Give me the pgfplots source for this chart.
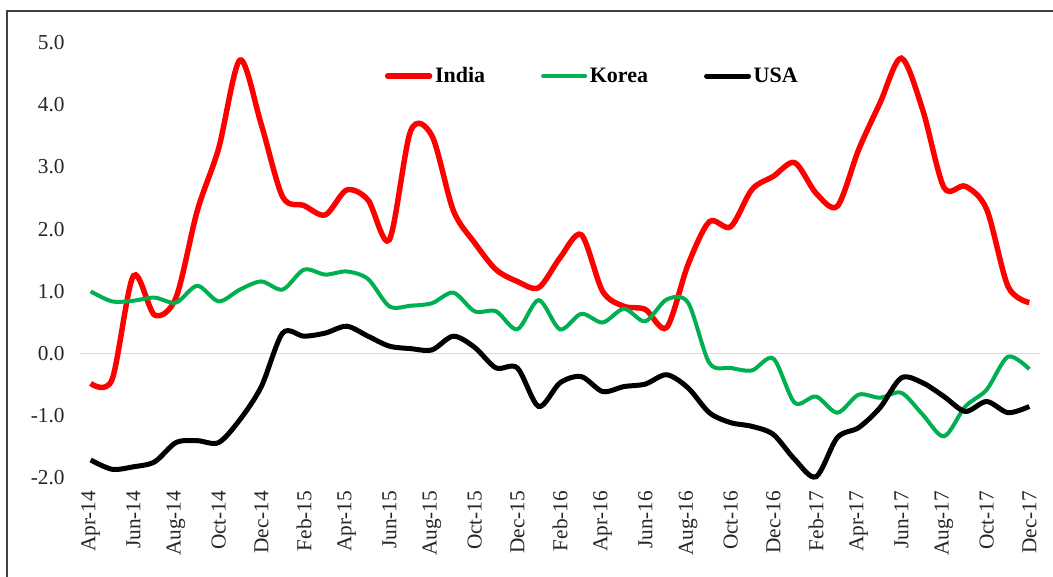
\documentclass[border=0pt]{standalone}
\usepackage{pgfplots}
\usepackage{pgfplotstable}
\pgfplotsset{compat=1.18}
\usepackage{fontspec}
\setmainfont{Liberation Serif}
\definecolor{kgreen}{RGB}{0,176,80}
\definecolor{zgray}{RGB}{217,217,217}

\pgfplotstableread{
i v
0 -0.48
1 -0.42
2 1.25
3 0.62
4 0.90
5 2.30
6 3.30
7 4.72
8 3.68
9 2.52
10 2.38
11 2.23
12 2.63
13 2.47
14 1.83
15 3.58
16 3.50
17 2.30
18 1.78
19 1.35
20 1.16
21 1.06
22 1.54
23 1.91
24 1.00
25 0.76
26 0.71
27 0.42
28 1.43
29 2.12
30 2.04
31 2.64
32 2.85
33 3.07
34 2.58
35 2.37
36 3.28
37 4.03
38 4.75
39 3.92
40 2.67
41 2.69
42 2.32
43 1.08
44 0.82
}\india

\pgfplotstableread{
i v
0 1.00
1 0.84
2 0.85
3 0.90
4 0.82
5 1.09
6 0.84
7 1.03
8 1.16
9 1.03
10 1.35
11 1.27
12 1.32
13 1.20
14 0.76
15 0.77
16 0.81
17 0.98
18 0.68
19 0.68
20 0.39
21 0.86
22 0.39
23 0.64
24 0.50
25 0.72
26 0.52
27 0.87
28 0.82
29 -0.15
30 -0.23
31 -0.27
32 -0.08
33 -0.79
34 -0.69
35 -0.95
36 -0.66
37 -0.71
38 -0.63
39 -0.98
40 -1.33
41 -0.85
42 -0.58
43 -0.05
44 -0.25
}\korea

\pgfplotstableread{
i v
0 -1.71
1 -1.86
2 -1.82
3 -1.74
4 -1.43
5 -1.40
6 -1.43
7 -1.06
8 -0.53
9 0.33
10 0.28
11 0.33
12 0.44
13 0.28
14 0.12
15 0.08
16 0.06
17 0.28
18 0.10
19 -0.23
20 -0.23
21 -0.85
22 -0.47
23 -0.37
24 -0.61
25 -0.53
26 -0.49
27 -0.34
28 -0.55
29 -0.95
30 -1.11
31 -1.17
32 -1.30
33 -1.70
34 -1.98
35 -1.35
36 -1.19
37 -0.87
38 -0.39
39 -0.47
40 -0.69
41 -0.93
42 -0.77
43 -0.95
44 -0.85
}\usa

\begin{document}
\begin{tikzpicture}
\begin{axis}[
  scale only axis,
  width=720pt, height=326.55pt,
  xmin=-0.5, xmax=44.5, ymin=-2, ymax=5,
  clip=false,
  axis line style={draw=none},
  major tick length=0pt,
  ytick={-2,-1,0,1,2,3,4,5},
  yticklabels={-2.0,-1.0,0.0,1.0,2.0,3.0,4.0,5.0},
  xtick={0,2,...,44},
  xticklabels={Apr-14,Jun-14,Aug-14,Oct-14,Dec-14,Feb-15,Apr-15,Jun-15,Aug-15,Oct-15,Dec-15,Feb-16,Apr-16,Jun-16,Aug-16,Oct-16,Dec-16,Feb-17,Apr-17,Jun-17,Aug-17,Oct-17,Dec-17},
  tick label style={font=\fontsize{16}{19}\selectfont, text=black!85},
  x tick label style={rotate=90, anchor=east},
  xticklabel shift=6pt,
  yticklabel shift=8pt,
  extra y ticks={0},
  extra y tick labels={},
  extra y tick style={grid=major, major grid style={zgray, line width=1.1pt}},
  legend columns=3,
  legend style={draw=none, fill=none, at={(0.534,0.923)}, anchor=center,
    font=\fontsize{16.5}{19}\selectfont\bfseries,
    /tikz/every even column/.append style={column sep=40pt}},
  legend image code/.code={\draw[#1, line cap=round] (0pt,0pt) -- (31.5pt,0pt);},
]
\addplot[red, line width=4.1pt, smooth, tension=0.5] table[x=i,y=v] {\india};
\addlegendentry{India}
\addplot[kgreen, line width=3pt, smooth, tension=0.5] table[x=i,y=v] {\korea};
\addlegendentry{Korea}
\addplot[black, line width=3.75pt, smooth, tension=0.5] table[x=i,y=v] {\usa};
\addlegendentry{USA}
\end{axis}
\draw[line width=1.1pt, black!75] ({-73*0.75pt},{-150pt}) -- ({-73*0.75pt},{467*0.75pt}) -- ({1100*0.75pt},{467*0.75pt});
\pgfresetboundingbox
\useasboundingbox ({-80*0.75pt},{-99*0.75pt}) rectangle ({973*0.75pt},{478*0.75pt});
\end{tikzpicture}
\end{document}
